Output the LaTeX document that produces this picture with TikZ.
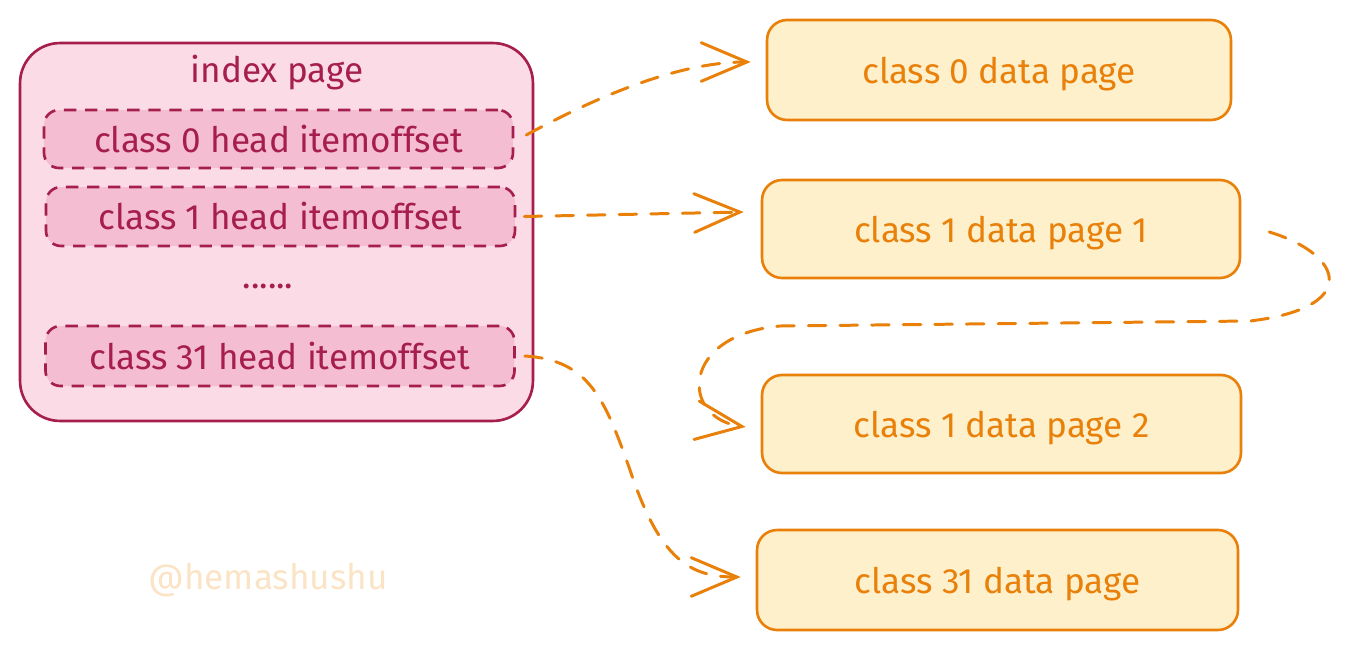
\documentclass[tikz,border=0pt]{standalone}
\usepackage{fontspec}
\setmainfont{Fira Sans}
\usetikzlibrary{arrows.meta,calc}

\definecolor{idxline}{HTML}{A61E4D}
\definecolor{idxfill}{HTML}{FADBE6}
\definecolor{headfill}{HTML}{F4BDD2}
\definecolor{pageline}{HTML}{E8800A}
\definecolor{pagefill}{HTML}{FFF0CC}
\definecolor{signcol}{HTML}{FBE3C6}

\begin{document}
\begin{tikzpicture}[x=0.02cm, y=-0.02cm,
    every node/.style={font=\fontsize{20}{23}\selectfont},
    idxbox/.style={draw=idxline, fill=idxfill, line width=1.5pt, rounded corners=0.8cm},
    headbox/.style={draw=idxline, fill=headfill, line width=1.5pt, dash pattern=on 7pt off 5pt,
        rounded corners=0.3cm, minimum width=9.38cm, text=idxline},
    pagebox/.style={draw=pageline, fill=pagefill, line width=1.5pt, rounded corners=0.4cm,
        minimum height=2cm, text=pageline, text height=20pt, text depth=4.5pt},
    link/.style={draw=pageline, line width=1.7pt, line cap=round, dash pattern=on 10pt off 8pt,
        -{Straight Barb[length=26pt,width=22pt,line cap=round]}}] %index
    \useasboundingbox (0,0) rectangle (1351,649);

    % index page
    \node[idxbox, minimum width=10.26cm, minimum height=7.56cm] (idx) at (276.5,232) {};
    \node[text=idxline] (idxlabel) at (277,73) {index page};
    \node[headbox, minimum height=1.16cm] (h0) at (278.5,139) {class 0 head itemoffset};
    \node[headbox, minimum height=1.18cm] (h1) at (280.5,216.5) {class 1 head itemoffset};
    \node[text=idxline] (dots) at (268,286) {......};
    \node[headbox, minimum height=1.2cm] (h31) at (280,356) {class 31 head itemoffset};

    % data pages
    \node[pagebox, minimum width=9.28cm] (d0) at (999,70) {class 0 data page};
    \node[pagebox, minimum width=9.56cm, minimum height=1.96cm] (d1) at (1001,229) {class 1 data page 1};
    \node[pagebox, minimum width=9.58cm, minimum height=1.96cm] (d2) at (1001.5,424) {class 1 data page 2};
    \node[pagebox, minimum width=9.62cm] (d31) at (997.5,580) {class 31 data page};

    \node[text=signcol] (sign) at (268,580) {@hemashushu};

    % links
    \draw[link] ($(h0.east)+(12,-4)$) .. controls (600,95) and (680,62) .. ($(d0.west)+(-15,-8)$);
    \draw[link] ($(h1.east)+(8,0)$) -- ($(d1.west)+(-17,-17)$);
    \draw[link] ($(d1.east)+(28,3)$) .. controls (1345,255) and (1360,308) .. (1250,321)
        -- (780,326) .. controls (680,335) and (680,418) .. ($(d2.west)+(-15,3)$);
    \draw[link] ($(h31.east)+(9,0)$) .. controls (590,360) and (605,400) .. (630,470)
        .. controls (660,560) and (690,577) .. ($(d31.west)+(-15,-3)$);
\end{tikzpicture}
\end{document}
